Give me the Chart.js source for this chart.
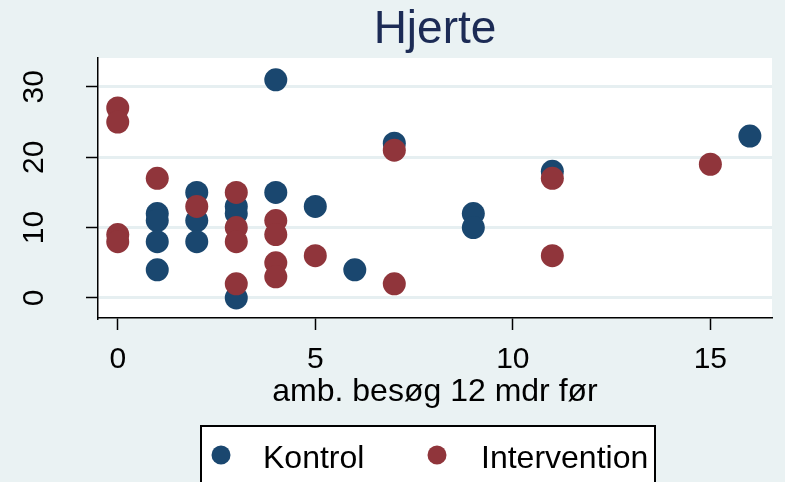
<!DOCTYPE html>
<html>
<head>
<meta charset="utf-8">
<script src="https://cdn.jsdelivr.net/npm/chart.js@4.4.1/dist/chart.umd.min.js"></script>
<style>
  html, body { margin: 0; padding: 0; background: #eaf2f3; }
</style>
</head>
<body>
<canvas id="graph" width="785" height="482"></canvas>
<script>
// values
const kontrolX = [4, 1, 1, 1, 1, 2, 2, 2, 3, 3, 3, 4, 5, 6, 7, 9, 9, 11, 16];
const kontrolY = [31, 12, 11, 8, 4, 15, 11, 8, 13, 12, 0, 15, 13, 4, 22, 12, 10, 18, 23];
const interventionX = [0, 0, 0, 0, 1, 2, 3, 3, 3, 3, 4, 4, 4, 4, 5, 7, 7, 11, 11, 15];
const interventionY = [27, 25, 9, 8, 17, 13, 15, 10, 8, 2, 11, 9, 5, 3, 6, 21, 2, 17, 6, 19];
const xTicks = [0, 5, 10, 15];
const yTicks = [0, 10, 20, 30];
const seriesNames = ['Kontrol', 'Intervention'];
const chartTitle = 'Hjerte';
const xTitle = 'amb. besøg 12 mdr før';

const BLUE = '#1a476f';
const RED = '#90353b';
const BG = '#eaf2f3';
const FONT = '"Liberation Sans", Arial, sans-serif';

function toPoints(xs, ys) {
    return xs.map((x, i) => ({x: x, y: ys[i]}));
}

const decor = {
    id: 'decor',
    beforeDraw(chart) {
        const ctx = chart.ctx;
        const a = chart.chartArea;
        ctx.save();
        ctx.fillStyle = BG;
        ctx.fillRect(0, 0, chart.width, chart.height);
        ctx.fillStyle = '#ffffff';
        ctx.fillRect(a.left, a.top, a.right - a.left, a.bottom - a.top);
        ctx.restore();
    },
    afterDraw(chart) {
        const ctx = chart.ctx;
        const a = chart.chartArea;
        const yScale = chart.scales.y;
        const cx = (a.left + a.right) / 2;
        ctx.save();

        // title
        ctx.fillStyle = '#1c2b55';
        ctx.font = '46px ' + FONT;
        ctx.textAlign = 'center';
        ctx.textBaseline = 'alphabetic';
        ctx.fillText(chartTitle, cx, 43);

        // y tick labels, rotated like the original
        ctx.fillStyle = '#000';
        ctx.font = '30px ' + FONT;
        yTicks.forEach(v => {
            const py = yScale.getPixelForValue(v);
            ctx.save();
            ctx.translate(43, py);
            ctx.rotate(-Math.PI / 2);
            ctx.textAlign = 'center';
            ctx.textBaseline = 'alphabetic';
            ctx.fillText(String(v), 0, 0);
            ctx.restore();
        });

        // x axis title
        ctx.font = '32px ' + FONT;
        ctx.textAlign = 'center';
        ctx.fillText(xTitle, cx, 401);

        // legend box
        ctx.fillStyle = '#fff';
        ctx.fillRect(200, 425, 455, 80);
        ctx.strokeStyle = '#000';
        ctx.lineWidth = 2;
        ctx.strokeRect(201, 426, 454, 80);
        const items = [
            {name: seriesNames[0], color: BLUE, mx: 221, tx: 263},
            {name: seriesNames[1], color: RED, mx: 437, tx: 481}
        ];
        items.forEach(it => {
            ctx.fillStyle = it.color;
            ctx.beginPath();
            ctx.arc(it.mx, 455, 9.5, 0, Math.PI * 2);
            ctx.fill();
            ctx.fillStyle = '#000';
            ctx.textAlign = 'left';
            ctx.fillText(it.name, it.tx, 468);
        });
        ctx.restore();
    }
};

const chart = new Chart(document.getElementById('graph'), {
    type: 'scatter',
    data: {
        datasets: [{
            label: seriesNames[0],
            data: toPoints(kontrolX, kontrolY),
            pointRadius: 11.5,
            pointHoverRadius: 11.5,
            pointBorderWidth: 0,
            pointBackgroundColor: BLUE,
            borderColor: BLUE,
            order: 1
        }, {
            label: seriesNames[1],
            data: toPoints(interventionX, interventionY),
            pointRadius: 11.5,
            pointHoverRadius: 11.5,
            pointBorderWidth: 0,
            pointBackgroundColor: RED,
            borderColor: RED,
            order: 0
        }]
    },
    options: {
        responsive: false,
        animation: false,
        layout: {padding: {left: 0, right: 13, top: 58, bottom: 0}},
        plugins: {
            legend: {display: false},
            title: {display: false},
            tooltip: {enabled: false}
        },
        scales: {
            x: {
                type: 'linear',
                min: -0.5,
                max: 16.56,
                afterBuildTicks: s => { s.ticks = xTicks.map(v => ({value: v})); },
                afterFit: s => { s.height = 164; },
                border: {color: '#000', width: 1.5},
                grid: {
                    drawOnChartArea: false,
                    drawTicks: true,
                    tickLength: 12,
                    tickColor: '#000',
                    tickWidth: 1.5
                },
                ticks: {
                    color: '#000',
                    padding: 12,
                    font: {family: FONT, size: 30}
                }
            },
            y: {
                type: 'linear',
                min: -2.85,
                max: 34.1,
                afterBuildTicks: s => { s.ticks = yTicks.map(v => ({value: v})); },
                afterFit: s => { s.width = 98; },
                border: {color: '#000', width: 1.5},
                grid: {
                    color: '#e6eff1',
                    lineWidth: 3,
                    drawTicks: true,
                    tickLength: 12,
                    tickColor: '#000',
                    tickWidth: 1.5
                },
                ticks: {display: false}
            }
        }
    },
    plugins: [decor]
});
</script>
</body>
</html>
